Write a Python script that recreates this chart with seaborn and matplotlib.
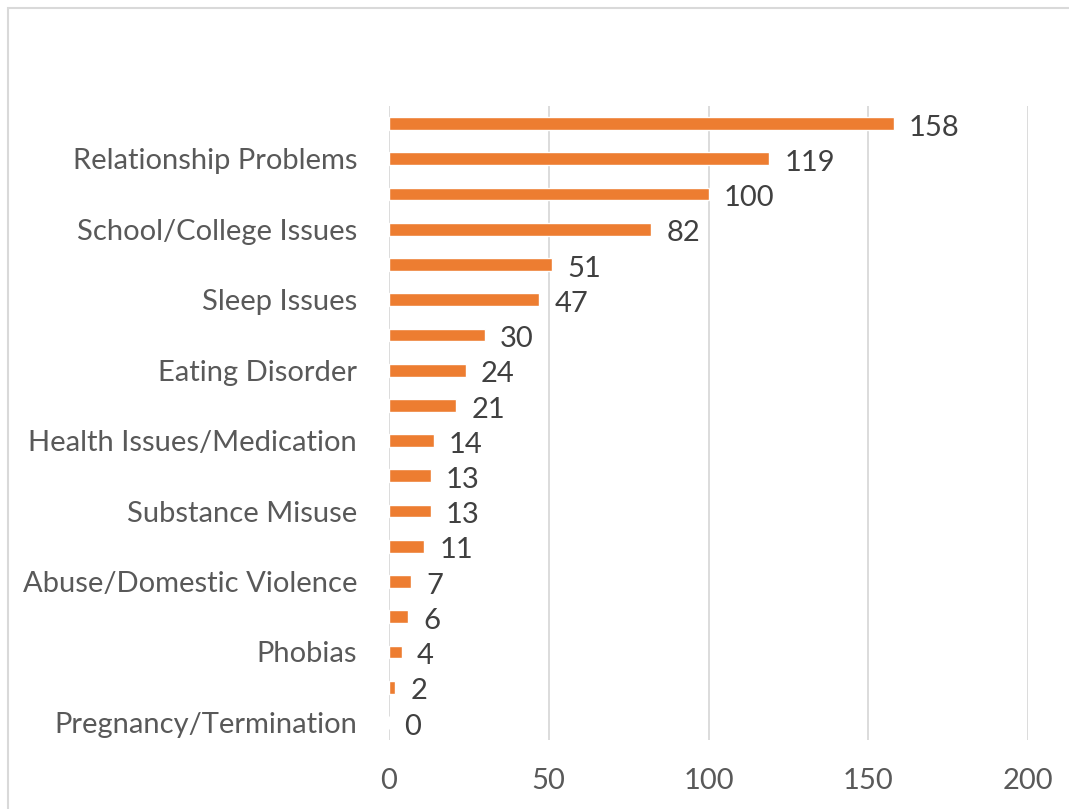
import pandas as pd
import matplotlib
matplotlib.use('Agg')
from matplotlib import pyplot as plt
from matplotlib.patches import Rectangle
import seaborn as sns

# Excel only printed every second category name, hidden ones kept as blanks
issues = ['issue_01', 'Relationship Problems', 'issue_03', 'School/College Issues',
          'issue_05', 'Sleep Issues', 'issue_07', 'Eating Disorder',
          'issue_09', 'Health Issues/Medication', 'issue_11', 'Substance Misuse',
          'issue_13', 'Abuse/Domestic Violence', 'issue_15', 'Phobias',
          'issue_17', 'Pregnancy/Termination']
tick_labels = ['', 'Relationship Problems', '', 'School/College Issues',
               '', 'Sleep Issues', '', 'Eating Disorder',
               '', 'Health Issues/Medication', '', 'Substance Misuse',
               '', 'Abuse/Domestic Violence', '', 'Phobias',
               '', 'Pregnancy/Termination']
counts = [158, 119, 100, 82, 51, 47, 30, 24, 21, 14, 13, 13, 11, 7, 6, 4, 2, 0]
x_ticks = [0, 50, 100, 150, 200]

df = pd.DataFrame({'issue': issues, 'count': counts})

sns.set_theme(style='white')
plt.rcParams['font.family'] = ['Lato', 'DejaVu Sans']

fig = plt.figure(figsize=(10.69, 8.09), dpi=100)
ax = fig.add_axes([389 / 1069, 1 - 740 / 809, (1028 - 389) / 1069, (740 - 106) / 809])

sns.barplot(data=df, x='count', y='issue', orient='h', color='#ED7D31',
            saturation=1, width=0.36, ax=ax)
labels = ax.bar_label(ax.containers[0], padding=11, fontsize=21, color='#404040')
for t in labels:
    t.xyann = (11, -3)  # nudge numbers a touch below the bar centre

ax.set_xlim(0, 200)
ax.set_ylim(17.5, -0.5)
ax.set_xticks(x_ticks)
ax.set_yticks(range(len(issues)))
ax.set_yticklabels(tick_labels)
ax.set_xlabel('')
ax.set_ylabel('')
ax.grid(axis='x', color='#D9D9D9', linewidth=1.3)
ax.set_axisbelow(True)
for s in ax.spines.values():
    s.set_visible(False)
ax.tick_params(axis='x', length=0, pad=20, labelsize=21, labelcolor='#595959')
ax.tick_params(axis='y', length=0, pad=23, labelsize=21, labelcolor='#595959')

# chart area frame, runs off the right and bottom of the picture
fig.patches.append(Rectangle((8 / 1069, -0.1), 1.0, 1 - 8 / 809 + 0.1,
                             transform=fig.transFigure, fill=False,
                             edgecolor='#D9D9D9', linewidth=1.5))

fig.savefig('out.png', dpi=100)
plt.close(fig)
